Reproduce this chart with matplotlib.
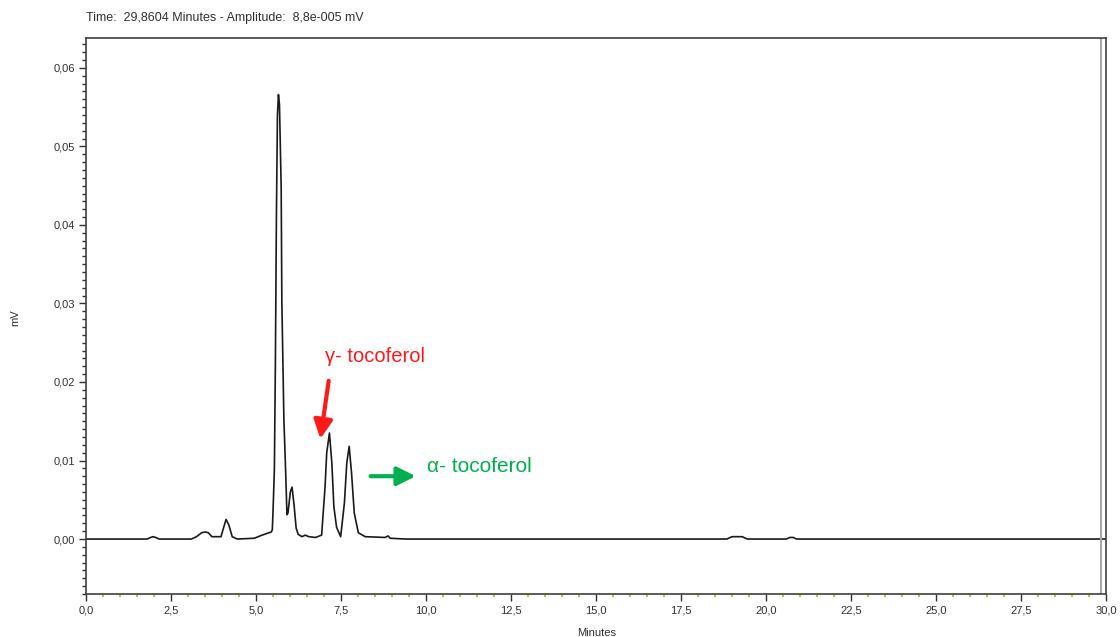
import matplotlib.pyplot as plt
import matplotlib.ticker as mticker

# chromatogram trace (minutes, mV)
time_min = [0.0, 1.80, 1.90, 1.97, 2.05, 2.15, 3.10, 3.25, 3.40, 3.50, 3.60, 3.70, 3.85,
            3.97, 4.05, 4.12, 4.20, 4.30, 4.45, 4.95, 5.18, 5.38, 5.45, 5.48, 5.50,
            5.54, 5.57, 5.60, 5.63, 5.66, 5.69, 5.74, 5.76, 5.82, 5.87, 5.91, 5.94,
            6.01, 6.06, 6.12, 6.18, 6.24, 6.35, 6.45, 6.55, 6.75, 6.93, 7.03, 7.08,
            7.16, 7.23, 7.29, 7.37, 7.49, 7.60, 7.67, 7.74, 7.81, 7.89, 8.01, 8.21,
            8.80, 8.88, 8.95, 9.40, 18.85, 19.00, 19.15, 19.30, 19.45, 20.60, 20.70,
            20.80, 20.90, 30.0]
signal_mv = [0.0, 0.0, 0.0002, 0.0003, 0.0002, 0.0, 0.0, 0.0003, 0.0008, 0.0009, 0.0008,
             0.0003, 0.0003, 0.0003, 0.0015, 0.0025, 0.0018, 0.0003, 0.0, 0.0001, 0.0005,
             0.0008, 0.0009, 0.0012, 0.0035, 0.0088, 0.0224, 0.0410, 0.0540, 0.0566,
             0.0553, 0.0448, 0.0302, 0.0152, 0.0088, 0.0031, 0.0033, 0.0060, 0.0066,
             0.0043, 0.0014, 0.0006, 0.0003, 0.0005, 0.0003, 0.0002, 0.0005, 0.0066,
             0.0110, 0.0135, 0.0097, 0.0041, 0.0015, 0.0003, 0.0046, 0.0097, 0.0118,
             0.0084, 0.0033, 0.0008, 0.0003, 0.0002, 0.0004, 0.0001, 0.0, 0.0, 0.0003,
             0.0003, 0.0003, 0.0, 0.0, 0.0002, 0.0002, 0.0, 0.0]

cursor_time = 29.8604
x_ticks = [0.0, 2.5, 5.0, 7.5, 10.0, 12.5, 15.0, 17.5, 20.0, 22.5, 25.0, 27.5, 30.0]
y_ticks = [0.00, 0.01, 0.02, 0.03, 0.04, 0.05, 0.06]

plt.rcParams['font.family'] = ['Liberation Sans', 'DejaVu Sans']

fig = plt.figure(figsize=(11.2, 6.37), dpi=100)
ax = fig.add_axes([0.0768, 0.0675, 0.9107, 0.8728])

ax.plot(time_min, signal_mv, color='#1a1a1a', linewidth=1.2)
ax.axvline(cursor_time, color='#a8a8a8', linewidth=1.5)

ax.set_xlim(0, 30)
ax.set_ylim(-0.0070, 0.0638)
ax.set_xticks(x_ticks)
ax.set_yticks(y_ticks)
ax.xaxis.set_minor_locator(mticker.MultipleLocator(0.5))
ax.yaxis.set_minor_locator(mticker.MultipleLocator(0.001))
ax.xaxis.set_major_formatter(mticker.FuncFormatter(lambda v, p: f'{v:.1f}'.replace('.', ',')))
ax.yaxis.set_major_formatter(mticker.FuncFormatter(lambda v, p: f'{v:.2f}'.replace('.', ',')))

ax.tick_params(axis='both', which='major', length=5, width=1, color='#303030',
               labelsize=8, labelcolor='#303030', pad=3)
ax.tick_params(axis='y', which='minor', length=3, width=1, color='#303030')
ax.tick_params(axis='x', which='minor', length=2.5, width=1.2, color='#b8b400')

for s in ax.spines.values():
    s.set_color('#404040')
    s.set_linewidth(1.2)

# annotations
red = '#ff1a1a'
green = '#00b050'
ax.annotate('', xy=(6.88, 0.0124), xytext=(7.15, 0.0205),
            arrowprops=dict(arrowstyle='-|>', color=red, lw=3, mutation_scale=28))
ax.text(7.03, 0.0232, 'γ- tocoferol', color=red, fontsize=14.5, va='center', ha='left')
ax.annotate('', xy=(9.78, 0.0080), xytext=(8.29, 0.0080),
            arrowprops=dict(arrowstyle='-|>', color=green, lw=3, mutation_scale=28))
ax.text(10.03, 0.0093, 'α- tocoferol', color=green, fontsize=15, va='center', ha='left')

fig.text(0.0768, 1 - 18 / 637, 'Time:  29,8604 Minutes - Amplitude:  8,8e-005 mV',
         fontsize=9, color='#303030', va='center', ha='left')
fig.text(15 / 1120, 1 - 318 / 637, 'mV', rotation=90, fontsize=8, color='#303030',
         va='center', ha='center')
fig.text(597 / 1120, 4 / 637, 'Minutes', fontsize=8, color='#303030',
         va='center', ha='center')

fig.savefig('out.png', dpi=100)
